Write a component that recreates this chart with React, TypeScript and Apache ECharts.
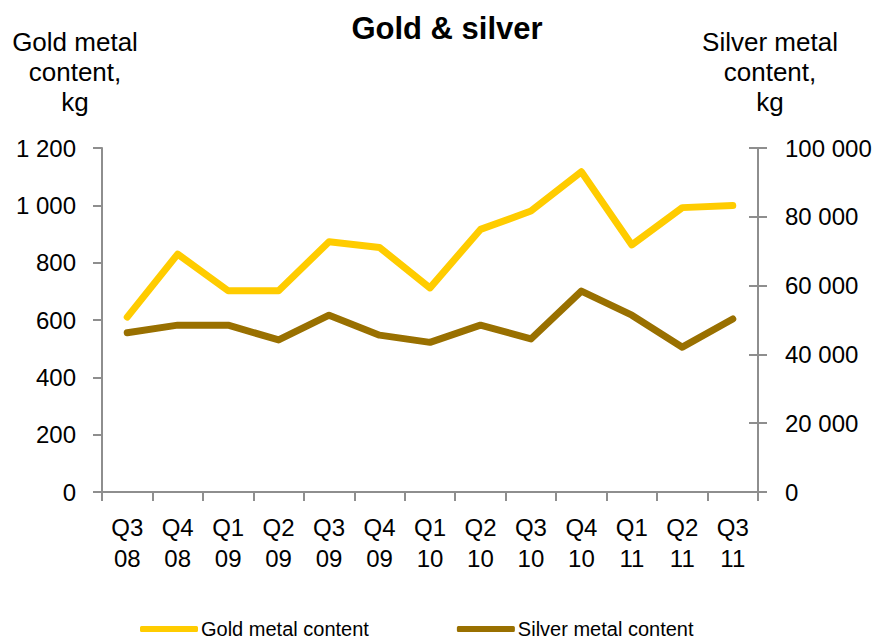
import React, { useEffect, useRef } from "react";
import * as echarts from "echarts";

const categories = ["Q3 08", "Q4 08", "Q1 09", "Q2 09", "Q3 09", "Q4 09", "Q1 10", "Q2 10", "Q3 10", "Q4 10", "Q1 11", "Q2 11", "Q3 11"];
const goldValues = [610, 830, 702, 702, 873, 853, 712, 916, 980, 1117, 862, 992, 999];
const silverValues = [46300, 48500, 48500, 44200, 51400, 45600, 43500, 48500, 44500, 58400, 51400, 42100, 50300];
const seriesNames = ["Gold metal content", "Silver metal content"];
const chartTitle = "Gold & silver";
const leftAxisName = "Gold metal\ncontent,\nkg";
const rightAxisName = "Silver metal\ncontent,\nkg";

const FONT = "'Liberation Sans', Arial, sans-serif";
const AXIS_GRAY = "#8e8e8e";
const GOLD = "#FFCC00";
const SILVER = "#997000";

const fmt = (v: number) => String(v).replace(/\B(?=(\d{3})+(?!\d))/g, " ");

export default function App() {
  const ref = useRef<HTMLDivElement>(null);
  useEffect(() => {
    if (!ref.current) return;
    const chart = echarts.init(ref.current, null, { renderer: "svg" });
    const labelStyle = { color: "#000", fontFamily: FONT, fontSize: 24 };
    chart.setOption({
      animation: false,
      backgroundColor: "#fff",
      title: [
        {
          text: chartTitle,
          left: 442,
          top: 8,
          textAlign: "center",
          textStyle: { fontFamily: FONT, fontSize: 31, fontWeight: "bold", color: "#000" },
        },
        {
          text: leftAxisName,
          left: 75,
          top: 27,
          textAlign: "center",
          padding: 0,
          textStyle: { fontFamily: FONT, fontSize: 26, fontWeight: "normal", color: "#000", lineHeight: 30, align: "center" },
        },
        {
          text: rightAxisName,
          left: 770,
          top: 27,
          textAlign: "center",
          padding: 0,
          textStyle: { fontFamily: FONT, fontSize: 26, fontWeight: "normal", color: "#000", lineHeight: 30, align: "center" },
        },
      ],
      legend: {
        left: 135,
        top: 614,
        itemWidth: 58,
        itemHeight: 6,
        itemGap: 88,
        icon: "roundRect",
        textStyle: { fontFamily: FONT, fontSize: 20, color: "#000", padding: [0, 0, 0, -2] },
        data: seriesNames,
      },
      grid: { left: 102, right: 122, top: 148, bottom: 148, containLabel: false },
      xAxis: {
        type: "category",
        data: categories,
        boundaryGap: true,
        axisLine: { lineStyle: { color: AXIS_GRAY, width: 2 } },
        axisTick: { show: true, length: 9, lineStyle: { color: AXIS_GRAY, width: 2 } },
        axisLabel: {
          ...labelStyle,
          lineHeight: 31,
          margin: 20,
          interval: 0,
          formatter: (v: string) => v.replace(" ", "\n"),
        },
        splitLine: { show: false },
      },
      yAxis: [
        {
          type: "value",
          min: 0,
          max: 1200,
          interval: 200,
          position: "left",
          axisLine: { show: true, lineStyle: { color: AXIS_GRAY, width: 2 } },
          axisTick: { show: true, length: 9, lineStyle: { color: AXIS_GRAY, width: 2 } },
          axisLabel: { ...labelStyle, margin: 26, formatter: (v: number) => fmt(v) },
          splitLine: { show: false },
        },
        {
          type: "value",
          min: 0,
          max: 100000,
          interval: 20000,
          position: "right",
          axisLine: { show: true, lineStyle: { color: AXIS_GRAY, width: 2 } },
          axisTick: { show: true, length: 9, lineStyle: { color: AXIS_GRAY, width: 2 } },
          axisLabel: { ...labelStyle, margin: 27, formatter: (v: number) => fmt(v) },
          splitLine: { show: false },
        },
        {
          type: "value",
          min: 0,
          max: 100000,
          interval: 20000,
          position: "right",
          axisLine: { show: false },
          axisTick: { show: true, inside: true, length: 9, lineStyle: { color: AXIS_GRAY, width: 2 } },
          axisLabel: { show: false },
          splitLine: { show: false },
        },
      ],
      series: [
        {
          name: seriesNames[0],
          type: "line",
          yAxisIndex: 0,
          data: goldValues,
          showSymbol: false,
          symbol: "none",
          color: GOLD,
          lineStyle: { color: GOLD, width: 7, cap: "round", join: "round" },
          z: 3,
        },
        {
          name: seriesNames[1],
          type: "line",
          yAxisIndex: 1,
          data: silverValues,
          showSymbol: false,
          symbol: "none",
          color: SILVER,
          lineStyle: { color: SILVER, width: 7, cap: "round", join: "round" },
          z: 2,
        },
      ],
    });
    return () => chart.dispose();
  }, []);
  return <div ref={ref} style={{ position: "absolute", left: 0, top: 0, width: 880, height: 640 }} />;
}
